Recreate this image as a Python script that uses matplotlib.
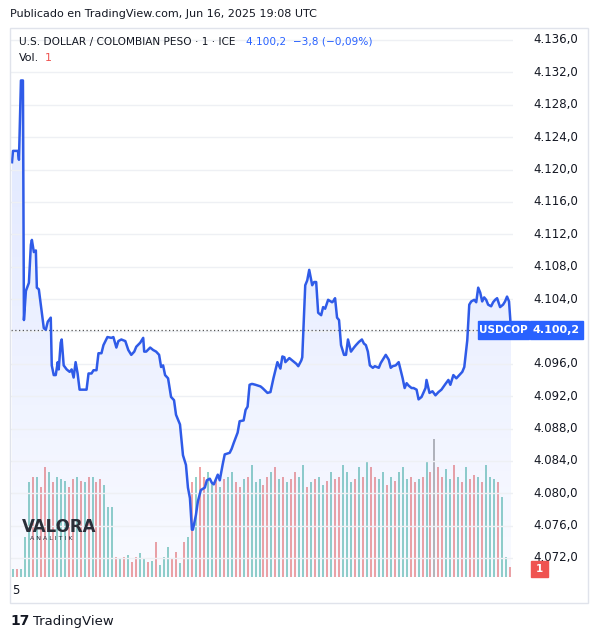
import numpy as np
import matplotlib
matplotlib.use("Agg")
import matplotlib.pyplot as plt
from matplotlib.patches import Rectangle

# time (minutes from chart start) and USD/COP price
t = [0,1,6,7,9,11,12,14,17,19,20,22,24,25,27,29,32,34,36,39,40,42,44,46,47,49,50,52,55,58,60,62,64,66,68,71,75,77,80,82,85,87,90,92,96,100,102,105,107,110,114,117,120,123,125,129,132,133,135,139,142,145,148,150,152,154,157,160,163,165,169,172,175,177,179,181,182,185,187,190,194,196,199,201,203,207,209,212,214,219,221,223,226,227,229,233,235,237,239,241,242,245,250,252,257,260,263,265,267,270,272,274,275,279,284,286,288,291,292,295,297,299,302,304,306,308,311,313,315,318,322,323,325,327,329,331,334,336,338,341,344,346,349,352,354,356,358,360,363,365,369,371,374,376,379,381,383,386,389,391,393,395,397,399,402,404,407,409,412,416,417,420,423,426,429,432,436,439,441,444,447,450,453,455,458,460,462,465,467,469,471,473,475,477,479,482,484,486,488,491,494,496,498,500,502]
price = [4120.9,4122.3,4122.3,4121.2,4131.0,4131.0,4101.4,4105.0,4106.0,4110.7,4111.3,4109.8,4110.0,4105.4,4105.2,4103.3,4100.4,4100.2,4101.2,4101.7,4095.8,4094.6,4094.6,4096.2,4095.3,4098.6,4099.0,4095.8,4095.3,4095.0,4095.3,4094.3,4096.2,4094.8,4092.8,4092.8,4092.8,4094.8,4094.8,4095.2,4095.2,4097.3,4097.3,4098.3,4099.3,4099.2,4099.3,4098.0,4098.8,4099.0,4098.8,4097.7,4097.1,4097.5,4098.1,4098.6,4099.2,4097.5,4097.5,4098.0,4097.7,4097.5,4097.1,4095.6,4095.8,4094.6,4094.2,4091.9,4091.5,4089.7,4088.5,4084.7,4083.5,4080.7,4079.4,4075.5,4075.5,4077.3,4079.0,4080.4,4080.7,4081.6,4081.8,4081.3,4081.1,4082.3,4081.6,4083.6,4084.8,4085.0,4085.5,4086.2,4087.2,4087.5,4088.9,4089.0,4090.3,4090.7,4093.4,4093.5,4093.5,4093.4,4093.2,4093.0,4092.4,4092.5,4094.2,4095.2,4096.2,4095.4,4096.9,4096.8,4096.2,4096.7,4096.2,4096.0,4095.7,4096.4,4096.8,4105.7,4106.3,4107.6,4105.7,4106.1,4106.1,4102.3,4102.0,4103.0,4102.8,4103.9,4103.6,4103.7,4104.1,4101.7,4101.4,4098.3,4097.1,4097.1,4099.0,4097.5,4098.0,4098.3,4098.7,4099.0,4098.5,4098.3,4097.5,4095.8,4095.5,4095.7,4095.5,4096.1,4096.7,4097.1,4096.5,4095.5,4095.7,4095.8,4096.2,4095.2,4094.2,4093.0,4093.6,4093.3,4093.0,4093.0,4092.8,4091.6,4091.9,4093.0,4094.0,4092.4,4092.6,4092.1,4092.5,4092.8,4093.5,4094.0,4093.4,4094.6,4094.2,4094.6,4095.0,4095.6,4098.9,4103.3,4103.7,4103.9,4103.6,4105.4,4104.8,4103.7,4104.2,4103.9,4103.3,4103.1,4103.6,4103.9,4104.1,4103.0,4103.3,4103.7,4104.3,4103.7,4100.2]

vol_a = [8,8,8]
vol_b = [40,95,100,100,90,110,105,95,100,98,96,90,98,100,96,95,100,100,95,98,92,70,70]
vol_c = [20,18,20,22,15,20,24,18,15,16,35,12,20,30,18,25,14,35,40]
vol_d = [95,100,110,100,105,95,98,90,98,100,105,95,90,98,100,112,95,98,92,100,105,110,98,100,95,98,105,100,112,90,95,98,100,92,96,105,98,100,112,105,95,98,110,100,115,110,100,98,105,92,100,96,105,110,98,100,95,98,100,115,105,138,110,100,108,98,112,100,95,110,98,102,100,95,112,100,98,95,80,20,10]
volume = vol_a + vol_b + vol_c + vol_d
vol_colors = "grgggrgrrgrgggrrgrgrgrrgggrgrgrrggrgrgggrrgrgrgrrggrgrggrrgrgggrrgrgrgrrggrgrggrgrrgggrgrgrrggrgrgggrrgrgrgrrggrgrgrrgrgggrg"

yticks = np.arange(4072, 4137, 4)
last = 4100.2

W, H = 598, 639
fig = plt.figure(figsize=(W/100, H/100), dpi=100)
fig.patch.set_facecolor("white")
plt.rcParams['font.family'] = ['DejaVu Sans']

def fx(px): return px / W
def fy(py): return 1 - py / H

fig.patches.append(Rectangle((fx(10), fy(603)), fx(578), (603-28)/H, transform=fig.transFigure,
                             fill=False, ec="#e0e3eb", lw=1))

ax = fig.add_axes([fx(11), fy(577), fx(502), (577-28)/H])
ylo = 4136 - (577-40)/8.094
yhi = 4136 + (40-28)/8.094
ax.set_ylim(ylo, yhi)
ax.set_xlim(-1, 504)

axv = ax.twinx()
axv.set_ylim(0, 549)
vx = [1 + 4*i for i in range(len(vol_a))]
vx += [13 + 4*i for i in range(len(vol_b))]
vx += [105 + 4*i for i in range(len(vol_c))]
vx += [181 + 4*i for i in range(len(vol_d))]
cols = []
for i, v in enumerate(volume):
    c = vol_colors[i % len(vol_colors)]
    cols.append("#92d1c9" if c == "g" else "#f0a4a4")
cols[len(vol_a)+len(vol_b)+len(vol_c)+61] = "#b8b8b8"
axv.bar(vx, volume, width=2.0, color=cols, zorder=1)
axv.set_yticks([])
for s in axv.spines.values(): s.set_visible(False)
axv.set_zorder(0)
ax.set_zorder(1)
ax.patch.set_visible(False)

n = min(len(t), len(price))
tt = t[:n]
pp = price[:n-1] + price[-1:]

grad = np.linspace(0.16, 0.03, 256).reshape(-1, 1)
img = ax.imshow(np.dstack([np.full_like(grad, 0.16), np.full_like(grad, 0.36), np.full_like(grad, 1.0), grad]),
                extent=[-1, 504, ylo, yhi], aspect="auto", origin="upper", zorder=0.5)
poly = ax.fill_between(tt, pp, ylo, color="none")
clip = poly.get_paths()[0]
img.set_clip_path(clip, transform=ax.transData)

ax.plot(tt, pp, color="#2f5be8", lw=1.8, zorder=3)
ax.axhline(last, color="#555555", lw=0.9, ls=(0, (1, 2)), zorder=2)

ax.set_yticks(yticks)
ax.yaxis.grid(True, color="#eef0f4", lw=1)
ax.set_axisbelow(True)
ax.tick_params(left=False, bottom=False, labelleft=False, labelbottom=False)
for s in ax.spines.values(): s.set_visible(False)

for v in yticks:
    if v == 4100:
        continue
    ypx = 40 + (4136-v)*8.094
    if v == 4072:
        ypx -= 1
    fig.text(fx(578), fy(ypx), f"{v:,.1f}".replace(",", "X").replace(".", ",").replace("X", "."),
             ha="right", va="center", fontsize=8.5, color="#131722")

fig.patches.append(Rectangle((fx(478), fy(339)), fx(51), 18/H, transform=fig.transFigure, color="#2962ff", zorder=5))
fig.text(fx(503.5), fy(330), "USDCOP", ha="center", va="center", fontsize=7.5, color="white", fontweight="bold", zorder=6)
fig.patches.append(Rectangle((fx(530), fy(339)), fx(53), 18/H, transform=fig.transFigure, color="#2962ff", zorder=5))
fig.text(fx(556), fy(330), "4.100,2", ha="center", va="center", fontsize=8, color="white", fontweight="bold", zorder=6)
fig.patches.append(Rectangle((fx(531), fy(577)), fx(17), 16/H, transform=fig.transFigure, color="#ef5350", zorder=5))
fig.text(fx(539.5), fy(569), "1", ha="center", va="center", fontsize=7.5, color="white", fontweight="bold", zorder=6)

fig.text(fx(10), fy(14), "Publicado en TradingView.com, Jun 16, 2025 19:08 UTC", ha="left", va="center",
         fontsize=8, color="#131722")
fig.text(fx(19), fy(42), "U.S. DOLLAR / COLOMBIAN PESO · 1 · ICE", ha="left", va="center", fontsize=7.6, color="#131722")
fig.text(fx(246), fy(42), "4.100,2  −3,8 (−0,09%)", ha="left", va="center", fontsize=7.6, color="#2962ff")
fig.text(fx(19), fy(58), "Vol.", ha="left", va="center", fontsize=8, color="#131722")
fig.text(fx(45), fy(58), "1", ha="left", va="center", fontsize=8, color="#ef5350")
fig.text(fx(12), fy(590), "5", ha="left", va="center", fontsize=8.5, color="#131722")

fig.text(fx(22), fy(527), "VALORA", ha="left", va="center", fontsize=12, fontweight="bold", color="#2a2e39")
fig.text(fx(30), fy(539), "A N A L I T I K", ha="left", va="center", fontsize=4.5, color="#2a2e39")
fig.text(fx(10), fy(621), "17", ha="left", va="center", fontsize=10, fontweight="black", color="#131722")
fig.text(fx(33), fy(621), "TradingView", ha="left", va="center", fontsize=9.5, color="#131722")

fig.savefig("out.png", dpi=100)
